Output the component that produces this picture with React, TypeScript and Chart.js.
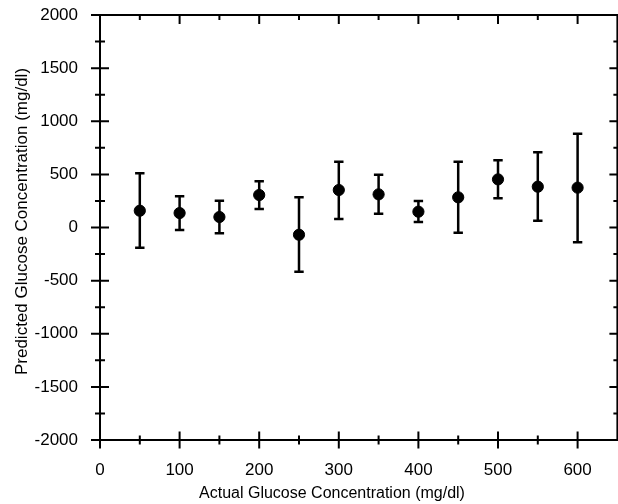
import { useEffect, useRef } from 'react';
import { Chart, registerables } from 'chart.js';

Chart.register(...registerables);

// ---- Data ----
const actualConc = [50, 100, 150, 200, 250, 300, 350, 400, 450, 500, 550, 600];
const predictedConc = [158, 136, 99, 306, -68, 353, 312, 149, 284, 453, 384, 375];
const upperBound = [510, 294, 252, 435, 284, 620, 497, 249, 620, 632, 708, 883];
const lowerBound = [-190, -24, -55, 174, -416, 80, 130, 52, -49, 275, 64, -139];

const xTickValues = [0, 100, 200, 300, 400, 500, 600];
const yTickValues = [-2000, -1500, -1000, -500, 0, 500, 1000, 1500, 2000];
const xRange = [0, 650];
const yRange = [-2000, 2000];

const xTitle = 'Actual Glucose Concentration (mg/dl)';
const yTitle = 'Predicted Glucose Concentration (mg/dl)';

const FONT = '"Liberation Sans", Arial, Helvetica, sans-serif';

const frameAndBarsPlugin = {
  id: 'frameAndBars',
  beforeDatasetsDraw(chart: any) {
    const { ctx, scales } = chart;
    const x = scales.x;
    const y = scales.y;
    ctx.save();
    ctx.strokeStyle = '#000';
    ctx.lineWidth = 2.5;
    actualConc.forEach((v, i) => {
      const px = x.getPixelForValue(v);
      const top = y.getPixelForValue(upperBound[i]);
      const bot = y.getPixelForValue(lowerBound[i]);
      ctx.beginPath();
      ctx.moveTo(px, top);
      ctx.lineTo(px, bot);
      ctx.moveTo(px - 4.7, top);
      ctx.lineTo(px + 4.7, top);
      ctx.moveTo(px - 4.7, bot);
      ctx.lineTo(px + 4.7, bot);
      ctx.stroke();
    });
    ctx.restore();
  },
  afterDraw(chart: any) {
    const { ctx, chartArea, scales } = chart;
    const x = scales.x;
    const y = scales.y;
    const { left, right, top, bottom } = chartArea;
    ctx.save();
    ctx.strokeStyle = '#000';
    ctx.lineWidth = 2;
    ctx.beginPath();
    ctx.rect(left, top, right - left, bottom - top);
    ctx.stroke();

    const xMinor: number[] = [];
    for (let i = 0; i < xTickValues.length; i++) {
      const next = i + 1 < xTickValues.length ? xTickValues[i + 1] : xTickValues[i] + (xTickValues[1] - xTickValues[0]);
      const mid = (xTickValues[i] + next) / 2;
      if (mid < xRange[1]) xMinor.push(mid);
    }
    const yMinor: number[] = [];
    for (let i = 0; i + 1 < yTickValues.length; i++) {
      yMinor.push((yTickValues[i] + yTickValues[i + 1]) / 2);
    }

    ctx.beginPath();
    xTickValues.forEach((v) => {
      const px = x.getPixelForValue(v);
      ctx.moveTo(px, bottom - 8.5);
      ctx.lineTo(px, bottom + 8.5);
      ctx.moveTo(px, top);
      ctx.lineTo(px, top + 9);
    });
    xMinor.forEach((v) => {
      const px = x.getPixelForValue(v);
      ctx.moveTo(px, bottom - 4.5);
      ctx.lineTo(px, bottom + 4.5);
      ctx.moveTo(px, top);
      ctx.lineTo(px, top + 5);
    });
    yTickValues.forEach((v) => {
      const py = y.getPixelForValue(v);
      ctx.moveTo(left - 9, py);
      ctx.lineTo(left + 9, py);
      ctx.moveTo(right, py);
      ctx.lineTo(right - 8, py);
    });
    yMinor.forEach((v) => {
      const py = y.getPixelForValue(v);
      ctx.moveTo(left - 5, py);
      ctx.lineTo(left + 5, py);
      ctx.moveTo(right, py);
      ctx.lineTo(right - 4, py);
    });
    ctx.stroke();

    // axis titles
    ctx.fillStyle = '#000';
    ctx.font = `16px ${FONT}`;
    ctx.textAlign = 'center';
    ctx.textBaseline = 'alphabetic';
    ctx.fillText(xTitle, 332, 498);

    ctx.save();
    ctx.font = `17px ${FONT}`;
    ctx.translate(27, (top + bottom) / 2 - 6);
    ctx.rotate(-Math.PI / 2);
    ctx.fillText(yTitle, 0, 0);
    ctx.restore();

    ctx.restore();
  },
};

export default function App() {
  const canvasRef = useRef<HTMLCanvasElement | null>(null);

  useEffect(() => {
    const canvas = canvasRef.current;
    if (!canvas) return;
    const chart = new Chart(canvas, {
      type: 'scatter',
      data: {
        datasets: [
          {
            label: 'Predicted',
            data: actualConc.map((v, i) => ({ x: v, y: predictedConc[i] })),
            backgroundColor: '#000',
            borderColor: '#000',
            pointRadius: 5.6,
            pointHoverRadius: 5.6,
            showLine: false,
          },
        ],
      },
      options: {
        animation: false,
        responsive: false,
        devicePixelRatio: 1,
        events: [],
        layout: { padding: { top: 15, right: 4, left: 0, bottom: 0 } },
        plugins: {
          legend: { display: false },
          tooltip: { enabled: false },
          title: { display: false },
        },
        scales: {
          x: {
            type: 'linear',
            min: xRange[0],
            max: xRange[1],
            grid: { display: false },
            border: { display: false },
            ticks: {
              color: '#000',
              font: { family: FONT, size: 17 },
              padding: 12,
              maxRotation: 0,
              callback: (v: any) => String(v),
            },
            afterBuildTicks: (scale: any) => {
              scale.ticks = xTickValues.map((v) => ({ value: v }));
            },
            afterFit: (scale: any) => {
              scale.height = 64;
              scale.paddingLeft = 0;
              scale.paddingRight = 0;
            },
          },
          y: {
            type: 'linear',
            min: yRange[0],
            max: yRange[1],
            grid: { display: false },
            border: { display: false },
            ticks: {
              color: '#000',
              font: { family: FONT, size: 17 },
              padding: 14,
              callback: (v: any) => String(v),
            },
            afterBuildTicks: (scale: any) => {
              scale.ticks = yTickValues.map((v) => ({ value: v }));
            },
            afterFit: (scale: any) => {
              scale.width = 100;
              scale.paddingTop = 0;
              scale.paddingBottom = 0;
            },
          },
        },
      },
      plugins: [frameAndBarsPlugin],
    });
    return () => chart.destroy();
  }, []);

  return (
    <div
      style={{
        position: 'fixed',
        left: 0,
        top: 0,
        width: 618,
        height: 504,
        overflow: 'hidden',
        background: '#fff',
      }}
    >
      <canvas ref={canvasRef} width={624} height={504} style={{ width: 624, height: 504, display: 'block' }} />
    </div>
  );
}
